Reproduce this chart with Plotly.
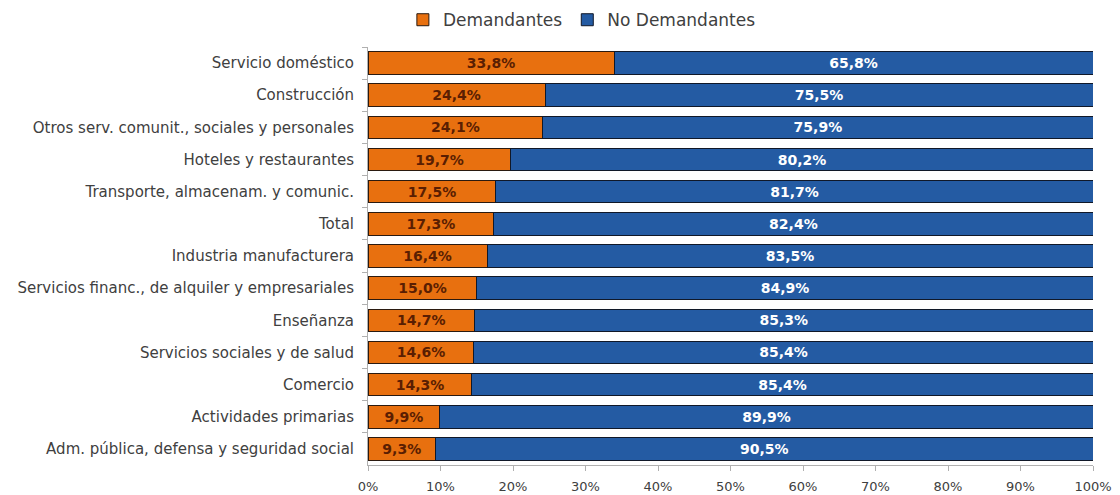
import plotly.graph_objects as go

categories = [
    "Servicio doméstico",
    "Construcción",
    "Otros serv. comunit., sociales y personales",
    "Hoteles y restaurantes",
    "Transporte, almacenam. y comunic.",
    "Total",
    "Industria manufacturera",
    "Servicios financ., de alquiler y empresariales",
    "Enseñanza",
    "Servicios sociales y de salud",
    "Comercio",
    "Actividades primarias",
    "Adm. pública, defensa y seguridad social",
]
demandantes = [33.8, 24.4, 24.1, 19.7, 17.5, 17.3, 16.4, 15.0, 14.7, 14.6, 14.3, 9.9, 9.3]
no_demandantes = [65.8, 75.5, 75.9, 80.2, 81.7, 82.4, 83.5, 84.9, 85.3, 85.4, 85.4, 89.9, 90.5]
x_ticks = [0, 10, 20, 30, 40, 50, 60, 70, 80, 90, 100]
x_tick_labels = [f"{t}%" for t in x_ticks]

# 100% stacked: normalize shares as the original chart does
tot = [d + n for d, n in zip(demandantes, no_demandantes)]
d_share = [d / t * 100 for d, t in zip(demandantes, tot)]
n_share = [n / t * 100 for n, t in zip(no_demandantes, tot)]

def fmt(v):
    return f"{v:.1f}%".replace(".", ",")

font_family = "DejaVu Sans, Verdana, sans-serif"

fig = go.Figure()
fig.add_trace(go.Bar(
    y=categories, x=d_share, orientation="h", name="Demandantes",
    marker=dict(color="#E8700F", line=dict(color="#2a1a10", width=1)),
    text=[fmt(v) for v in demandantes], textposition="inside", insidetextanchor="middle",
    textfont=dict(color="#5A1E02", size=14, family=font_family, weight="bold"),
    hoverinfo="skip",
))
fig.add_trace(go.Bar(
    y=categories, x=n_share, orientation="h", name="No Demandantes",
    marker=dict(color="#245BA3", line=dict(color="#101828", width=1)),
    text=[fmt(v) for v in no_demandantes], textposition="inside", insidetextanchor="middle",
    textfont=dict(color="white", size=14, family=font_family, weight="bold"),
    hoverinfo="skip",
))

fig.update_layout(
    barmode="stack",
    bargap=0.3,
    width=1112, height=487,
    margin=dict(l=360, r=27, t=39, b=30),
    plot_bgcolor="white", paper_bgcolor="white",
    font=dict(family=font_family, size=13, color="#404040"),
    uniformtext=dict(mode="show", minsize=10),
    legend=dict(orientation="h", x=0.295, xanchor="center",
                yref="container", y=0.975, yanchor="middle",
                font=dict(size=17, color="#404040"), traceorder="normal",
                itemwidth=30, tracegroupgap=0),
    xaxis=dict(range=[0, 100], tickvals=x_ticks, ticktext=x_tick_labels,
               showgrid=False, zeroline=False, showline=True, linecolor="#b0b0b0",
               ticks="outside", ticklen=5, tickcolor="#b0b0b0", automargin=False,
               ticklabelstandoff=4, ticklabeloverflow="allow",
               tickfont=dict(size=13, color="#404040")),
    yaxis=dict(autorange="reversed", showgrid=False, showline=True, linecolor="#b0b0b0",
               ticks="outside", ticklen=5, tickcolor="#b0b0b0", tickson="boundaries",
               automargin=False, ticklabelstandoff=10,
               tickfont=dict(size=15, color="#404040")),
)

fig.write_html("out.html")
